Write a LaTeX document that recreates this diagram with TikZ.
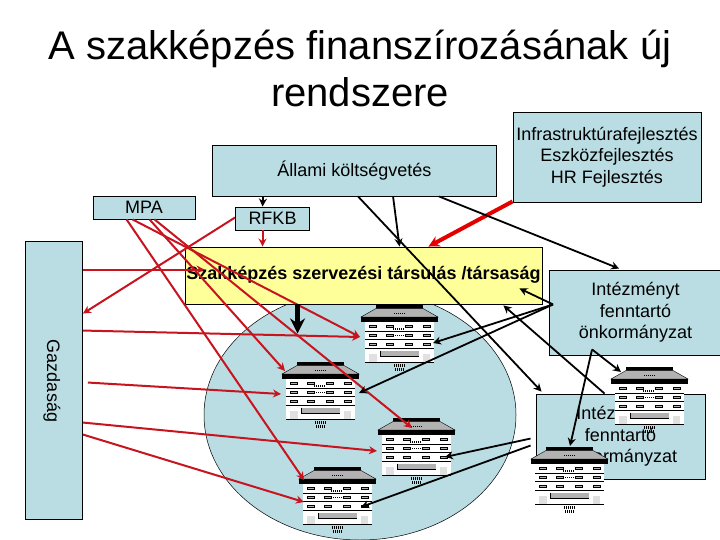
\documentclass[tikz,border=0pt]{standalone}
\usepackage{fontspec}
\setmainfont{Liberation Sans}
\usetikzlibrary{arrows.meta, calc, backgrounds, shapes.geometric}
\definecolor{boxblue}{HTML}{B9DDE3}
\definecolor{boxyellow}{HTML}{FFFF99}
\definecolor{linered}{HTML}{C8141E}
\definecolor{roofgray}{HTML}{B2B2B2}
\tikzset{
  pics/epulet/.style={code={
    \coordinate (-o) at (0,0);
    \fill[white] (4,17) rectangle (73,57);
    \fill[black] (15,0) rectangle (62,3.5);
    \filldraw[fill=roofgray, draw=black, line width=0.4pt] (15,3.5) -- (62,3.5) -- (77,12) -- (0,12) -- cycle;
    \fill[black] (0,12) rectangle (77,17);
    \foreach \wy in {21,30,39} {
      \foreach \wx in {8,25,44,62}
        \filldraw[fill=roofgray, draw=black, line width=0.5pt] (\wx,\wy-1.2) rectangle ++(7,2.4);
    }
    \foreach \fy in {26,34.5,43,57}
      \draw[line width=0.7pt] (4,\fy) -- (73,\fy);
    \fill[roofgray] (20,45.5) rectangle (58,51);
    \draw[line width=0.5pt] (19.5,45.5) -- (19.5,51.5) -- (58,51.5);
    \fill[black!12] (8,49) rectangle (15.5,57);
    \fill[black!12] (61.5,49) rectangle (69,57);
    \draw[line width=1.2pt, dash pattern=on 1pt off 1pt] (33,8.5) -- (44,8.5);
    \draw[line width=1.4pt, dash pattern=on 1pt off 1pt] (32,24) -- (44,24);
    \draw[line width=1.4pt, dash pattern=on 1pt off 1pt] (32,30.5) -- (44,30.5);
    \draw[line width=3pt, dash pattern=on 1pt off 1pt] (33,60.5) -- (44,60.5);
    \draw[line width=3pt, dash pattern=on 1pt off 1pt] (34,64) -- (43,64);
  }}
}
\begin{document}
\begin{tikzpicture}[x=1pt, y=-1pt, every node/.style={font=\fontsize{18}{21.5}\selectfont},
  box/.style={draw, line width=0.9pt, fill=boxblue, inner sep=0pt, align=center},
  redarrow/.style={draw=linered, line width=2pt, -{Stealth[length=8pt, width=8pt, fill=red!90!black]}},
  blackarrow/.style={draw=black, line width=1.8pt, -{Stealth[length=8pt, width=8pt]}}]
  \useasboundingbox (0,0) rectangle (720,540);
  \fill[white] (0,0) rectangle (720,540);

  \node[font=\fontsize{40}{47}\selectfont, align=center] (cim) at (360,68) {A szakképzés finanszírozásának új\\rendszere};

  \node[draw, line width=0.5pt, ellipse, fill=boxblue, inner sep=0pt, minimum width=312pt, minimum height=250pt] (kor) at (360,415) {};

  \node[box, minimum width=284pt, minimum height=51pt] (allami) at (354.5,170.5) {Állami költségvetés};
  \node[box, minimum width=102pt, minimum height=23pt] (mpa) at (144,207.5) {MPA};
  \node[box, minimum width=74pt, minimum height=23pt] (rfkb) at (272.5,218.5) {RFKB};
  \node[box, fill=boxyellow, minimum width=357pt, minimum height=57pt] (tars) at (363.5,275.5) {};
  \node[font=\fontsize{18}{21.5}\selectfont\bfseries] (tarsszov) at (363.5,275) {Szakképzés szervezési társulás /társaság};
  \node[box, minimum width=188pt, minimum height=90pt] (infra) at (607,157) {Infrastruktúrafejlesztés\\Eszközfejlesztés\\HR Fejlesztés};
  \node[box, minimum width=172pt, minimum height=85pt] (fennt) at (635.5,312.5) {Intézményt\\fenntartó\\önkormányzat};
  \node[box, minimum width=169pt, minimum height=85pt] (fenntb) at (620.5,436.5) {Intézményt\\fenntartó\\önkormányzat};
  \node[box, minimum width=57pt, minimum height=278pt] (gaz) at (54,380) {};
  \node[rotate=-90] (gazszov) at (52,381) {Gazdaság};

  \pic (bldA) at (361,305) {epulet};
  \pic (bldB) at (282,362) {epulet};
  \pic (bldC) at (378,418) {epulet};
  \pic (bldD) at (299,467) {epulet};
  \pic (bldE) at (611,367) {epulet};
  \pic (bldF) at (531,447) {epulet};

  \begin{pgfonlayer}{background}
    \draw[redarrow] (gaz.north west) -- ($(allami.north west)+(0,18)$);
    \draw[redarrow] ($(gaz.north east)+(-6,1)$) -- ($(allami.north west)+(0,29)$);
    \draw[blackarrow] ($(allami.north east)+(5,22)$) -- ($(fennt.north west)+(70,-1)$);
  \end{pgfonlayer}

  \draw[redarrow] ($(rfkb.west)+(0,-1)$) -- ($(gaz.north east)+(0,73)$);
  \draw[redarrow] ($(gaz.north east)+(0,29)$) -- ($(tars.north west)+(20,23)$);
  \draw[redarrow] ($(gaz.north east)+(0,90)$) -- ($(bldA-o)+(-1,32)$);
  \draw[redarrow] ($(gaz.north east)+(5,142)$) -- ($(bldB-o)+(-1,32)$);
  \draw[redarrow] ($(gaz.north east)+(0,182)$) -- ($(bldC-o)+(-1,33)$);
  \draw[redarrow] ($(gaz.north east)+(0,194)$) -- ($(bldD-o)+(5,35)$);
  \draw[redarrow] ($(mpa.south west)+(34,0)$) -- ($(bldD-o)+(5,13)$);
  \draw[redarrow] ($(mpa.south west)+(40,0)$) -- ($(bldA-o)+(-1,32)$);
  \draw[redarrow] ($(mpa.south west)+(57,0)$) -- ($(bldB-o)+(3,9)$);
  \draw[redarrow] ($(mpa.south west)+(62,0)$) -- ($(bldC-o)+(34,10)$);
  \draw[redarrow] ($(rfkb.south west)+(27.5,0)$) -- ($(tars.north west)+(78,0)$);
  \draw[line width=4pt, -{Stealth[length=11pt, width=11pt]}, red!90!black] ($(infra.south west)+(0,-1)$) -- ($(tars.north east)+(-114,0)$);

  \draw[-{Stealth[length=15pt, width=15pt]}, line width=5pt] ($(tars.south west)+(113,0)$) -- ++(0,29);
  \draw[blackarrow] ($(allami.south west)+(51,0)$) -- ($(rfkb.north west)+(27.5,0)$);
  \draw[blackarrow] ($(allami.south west)+(181,0)$) -- ($(tars.north west)+(215,0)$);
  \draw[blackarrow] ($(allami.south west)+(146,0)$) -- ($(fenntb.north west)+(6,-2)$);
  \draw[blackarrow] ($(allami.south west)+(227,0)$) -- ($(fennt.north west)+(70,-1)$);
  \draw[blackarrow] ($(fennt.south west)+(4,-51)$) -- ($(tars.south east)+(-23,-16)$);
  \draw[blackarrow] ($(fennt.south west)+(4,-51)$) -- ($(bldA-o)+(72,38)$);
  \draw[blackarrow] ($(fennt.south west)+(4,-51)$) -- ($(bldB-o)+(77,31)$);
  \draw[blackarrow] ($(fenntb.north west)+(69,0)$) -- ($(tars.south east)+(-39,1)$);
  \draw[blackarrow] ($(fennt.south west)+(43,-6)$) -- ($(bldE-o)+(10,5)$);
  \draw[blackarrow] ($(fennt.south west)+(43,-6)$) -- ($(bldF-o)+(39,-1)$);
  \draw[blackarrow] ($(fenntb.north west)+(-5,45)$) -- ($(bldC-o)+(67,39)$);
  \draw[blackarrow] ($(fenntb.north west)+(-5,52)$) -- ($(bldD-o)+(62,40)$);
\end{tikzpicture}
\end{document}
